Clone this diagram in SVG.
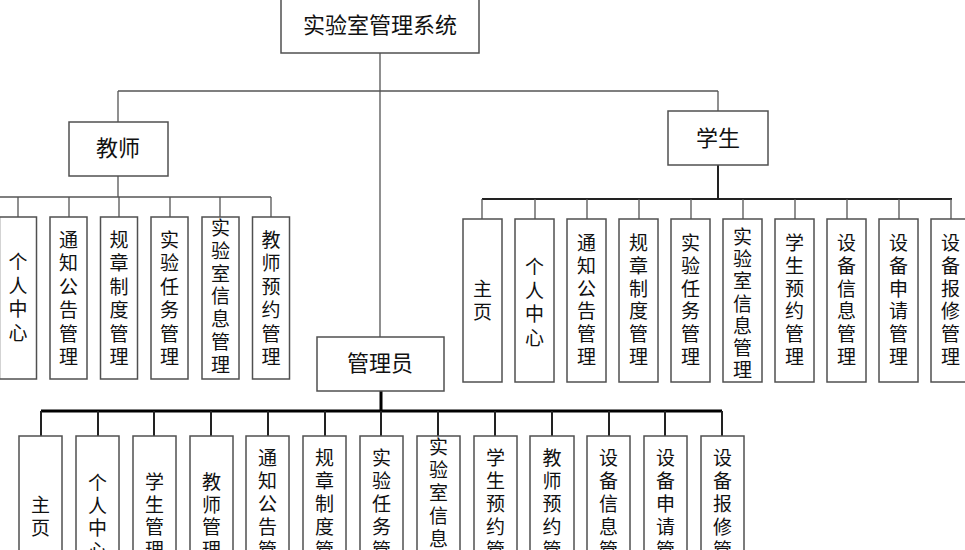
<svg xmlns="http://www.w3.org/2000/svg" width="965" height="550" viewBox="0 0 965 550">
<style>
.bg{fill:#fff}
.box{fill:#fff;stroke:#505050;stroke-width:1.5}
.ln{fill:none;stroke:#555;stroke-width:1.3}
.ln2{fill:none;stroke:#222;stroke-width:2}
.ln3{fill:none;stroke:#000;stroke-width:3}
text{font-family:"Noto Sans CJK SC","Noto Sans CJK TC",sans-serif;fill:#111}
.t{font-size:22px;text-anchor:middle}
.v{font-size:19px;text-anchor:middle}
</style>
<rect class="bg" width="965" height="550"/>
<g id="connectors">
  <path class="ln" d="M380,53 V337 M118,91 H718 M118,91 V122 M718,91 V111"/>
  <path class="ln" d="M118,176 V197 M-5,197 H271 M18,197 V217 M69,197 V217 M119,197 V217 M170,197 V217 M220,197 V217 M271,197 V217"/>
  <path class="ln2" d="M718,165 V199 M482,199 H952"/>
  <path class="ln" d="M482,199 V219 M535,199 V219 M587,199 V219 M639,199 V219 M691,199 V219 M743,199 V219 M795,199 V219 M847,199 V219 M899,199 V219 M951,199 V219"/>
  <path class="ln3" d="M381,391 V411 M41,411 H722"/>
  <path class="ln2" d="M41,411 V436 M98,411 V436 M154,411 V436 M211,411 V436 M268,411 V436 M325,411 V436 M381,411 V436 M438,411 V436 M495,411 V436 M552,411 V436 M609,411 V436 M665,411 V436 M722,411 V436"/>
</g>
<g id="root"><rect class="box" x="281" y="-1" width="198" height="54"/><text class="t" x="380" y="33">实验室管理系统</text></g>
<g id="teacher"><rect class="box" x="69" y="122" width="99" height="54"/><text class="t" x="118" y="156">教师</text></g>
<g id="student"><rect class="box" x="668" y="111" width="100" height="54"/><text class="t" x="718" y="146">学生</text></g>
<g id="admin"><rect class="box" x="317" y="337" width="127" height="54"/><text class="t" x="380" y="371">管理员</text></g>

<g id="t1"><rect class="box" x="-0.5" y="217" width="37" height="162"/><text class="v" x="18" y="269"><tspan x="18">个</tspan><tspan x="18" dy="23.5">人</tspan><tspan x="18" dy="23.5">中</tspan><tspan x="18" dy="23.5">心</tspan></text></g>
<g id="t2"><rect class="box" x="50" y="217" width="37" height="162"/><text class="v" x="68.5" y="247"><tspan x="68.5">通</tspan><tspan x="68.5" dy="23.4">知</tspan><tspan x="68.5" dy="23.4">公</tspan><tspan x="68.5" dy="23.4">告</tspan><tspan x="68.5" dy="23.4">管</tspan><tspan x="68.5" dy="23.4">理</tspan></text></g>
<g id="t3"><rect class="box" x="100.5" y="217" width="37" height="162"/><text class="v" x="119" y="247"><tspan x="119">规</tspan><tspan x="119" dy="23.4">章</tspan><tspan x="119" dy="23.4">制</tspan><tspan x="119" dy="23.4">度</tspan><tspan x="119" dy="23.4">管</tspan><tspan x="119" dy="23.4">理</tspan></text></g>
<g id="t4"><rect class="box" x="151" y="217" width="37" height="162"/><text class="v" x="169.5" y="247"><tspan x="169.5">实</tspan><tspan x="169.5" dy="23.4">验</tspan><tspan x="169.5" dy="23.4">任</tspan><tspan x="169.5" dy="23.4">务</tspan><tspan x="169.5" dy="23.4">管</tspan><tspan x="169.5" dy="23.4">理</tspan></text></g>
<g id="t5"><rect class="box" x="202" y="217" width="37" height="162"/><text class="v" x="220.5" y="235"><tspan x="220.5">实</tspan><tspan x="220.5" dy="22.8">验</tspan><tspan x="220.5" dy="22.8">室</tspan><tspan x="220.5" dy="22.8">信</tspan><tspan x="220.5" dy="22.8">息</tspan><tspan x="220.5" dy="22.8">管</tspan><tspan x="220.5" dy="22.8">理</tspan></text></g>
<g id="t6"><rect class="box" x="252.5" y="217" width="37" height="162"/><text class="v" x="271" y="247"><tspan x="271">教</tspan><tspan x="271" dy="23.4">师</tspan><tspan x="271" dy="23.4">预</tspan><tspan x="271" dy="23.4">约</tspan><tspan x="271" dy="23.4">管</tspan><tspan x="271" dy="23.4">理</tspan></text></g>

<g id="s1"><rect class="box" x="463" y="219" width="39" height="163"/><text class="v" x="482.5" y="296"><tspan x="482.5">主</tspan><tspan x="482.5" dy="22.5">页</tspan></text></g>
<g id="s2"><rect class="box" x="515" y="219" width="39" height="163"/><text class="v" x="534.5" y="274"><tspan x="534.5">个</tspan><tspan x="534.5" dy="23.5">人</tspan><tspan x="534.5" dy="23.5">中</tspan><tspan x="534.5" dy="23.5">心</tspan></text></g>
<g id="s3"><rect class="box" x="567" y="219" width="39" height="163"/><text class="v" x="586.5" y="250"><tspan x="586.5">通</tspan><tspan x="586.5" dy="22.8">知</tspan><tspan x="586.5" dy="22.8">公</tspan><tspan x="586.5" dy="22.8">告</tspan><tspan x="586.5" dy="22.8">管</tspan><tspan x="586.5" dy="22.8">理</tspan></text></g>
<g id="s4"><rect class="box" x="619" y="219" width="39" height="163"/><text class="v" x="638.5" y="250"><tspan x="638.5">规</tspan><tspan x="638.5" dy="22.8">章</tspan><tspan x="638.5" dy="22.8">制</tspan><tspan x="638.5" dy="22.8">度</tspan><tspan x="638.5" dy="22.8">管</tspan><tspan x="638.5" dy="22.8">理</tspan></text></g>
<g id="s5"><rect class="box" x="671" y="219" width="39" height="163"/><text class="v" x="690.5" y="250"><tspan x="690.5">实</tspan><tspan x="690.5" dy="22.8">验</tspan><tspan x="690.5" dy="22.8">任</tspan><tspan x="690.5" dy="22.8">务</tspan><tspan x="690.5" dy="22.8">管</tspan><tspan x="690.5" dy="22.8">理</tspan></text></g>
<g id="s6"><rect class="box" x="723" y="219" width="39" height="163"/><text class="v" x="742.5" y="244"><tspan x="742.5">实</tspan><tspan x="742.5" dy="22.2">验</tspan><tspan x="742.5" dy="22.2">室</tspan><tspan x="742.5" dy="22.2">信</tspan><tspan x="742.5" dy="22.2">息</tspan><tspan x="742.5" dy="22.2">管</tspan><tspan x="742.5" dy="22.2">理</tspan></text></g>
<g id="s7"><rect class="box" x="775" y="219" width="39" height="163"/><text class="v" x="794.5" y="250"><tspan x="794.5">学</tspan><tspan x="794.5" dy="22.8">生</tspan><tspan x="794.5" dy="22.8">预</tspan><tspan x="794.5" dy="22.8">约</tspan><tspan x="794.5" dy="22.8">管</tspan><tspan x="794.5" dy="22.8">理</tspan></text></g>
<g id="s8"><rect class="box" x="827" y="219" width="39" height="163"/><text class="v" x="846.5" y="250"><tspan x="846.5">设</tspan><tspan x="846.5" dy="22.8">备</tspan><tspan x="846.5" dy="22.8">信</tspan><tspan x="846.5" dy="22.8">息</tspan><tspan x="846.5" dy="22.8">管</tspan><tspan x="846.5" dy="22.8">理</tspan></text></g>
<g id="s9"><rect class="box" x="879" y="219" width="39" height="163"/><text class="v" x="898.5" y="250"><tspan x="898.5">设</tspan><tspan x="898.5" dy="22.8">备</tspan><tspan x="898.5" dy="22.8">申</tspan><tspan x="898.5" dy="22.8">请</tspan><tspan x="898.5" dy="22.8">管</tspan><tspan x="898.5" dy="22.8">理</tspan></text></g>
<g id="s10"><rect class="box" x="931" y="219" width="39" height="163"/><text class="v" x="950.5" y="250"><tspan x="950.5">设</tspan><tspan x="950.5" dy="22.8">备</tspan><tspan x="950.5" dy="22.8">报</tspan><tspan x="950.5" dy="22.8">修</tspan><tspan x="950.5" dy="22.8">管</tspan><tspan x="950.5" dy="22.8">理</tspan></text></g>

<g id="a1"><rect class="box" x="19" y="436" width="43" height="160"/><text class="v" x="40.5" y="512"><tspan x="40.5">主</tspan><tspan x="40.5" dy="22.5">页</tspan></text></g>
<g id="a2"><rect class="box" x="76" y="436" width="43" height="160"/><text class="v" x="97.5" y="490"><tspan x="97.5">个</tspan><tspan x="97.5" dy="22.5">人</tspan><tspan x="97.5" dy="22.5">中</tspan><tspan x="97.5" dy="22.5">心</tspan></text></g>
<g id="a3"><rect class="box" x="133" y="436" width="43" height="160"/><text class="v" x="154.5" y="489"><tspan x="154.5">学</tspan><tspan x="154.5" dy="22.5">生</tspan><tspan x="154.5" dy="22.5">管</tspan><tspan x="154.5" dy="22.5">理</tspan></text></g>
<g id="a4"><rect class="box" x="190" y="436" width="43" height="160"/><text class="v" x="211.5" y="489"><tspan x="211.5">教</tspan><tspan x="211.5" dy="22.5">师</tspan><tspan x="211.5" dy="22.5">管</tspan><tspan x="211.5" dy="22.5">理</tspan></text></g>
<g id="a5"><rect class="box" x="246" y="436" width="43" height="160"/><text class="v" x="267.5" y="465"><tspan x="267.5">通</tspan><tspan x="267.5" dy="23">知</tspan><tspan x="267.5" dy="23">公</tspan><tspan x="267.5" dy="23">告</tspan><tspan x="267.5" dy="23">管</tspan><tspan x="267.5" dy="23">理</tspan></text></g>
<g id="a6"><rect class="box" x="303" y="436" width="43" height="160"/><text class="v" x="324.5" y="465"><tspan x="324.5">规</tspan><tspan x="324.5" dy="23">章</tspan><tspan x="324.5" dy="23">制</tspan><tspan x="324.5" dy="23">度</tspan><tspan x="324.5" dy="23">管</tspan><tspan x="324.5" dy="23">理</tspan></text></g>
<g id="a7"><rect class="box" x="360" y="436" width="43" height="160"/><text class="v" x="381.5" y="465"><tspan x="381.5">实</tspan><tspan x="381.5" dy="23">验</tspan><tspan x="381.5" dy="23">任</tspan><tspan x="381.5" dy="23">务</tspan><tspan x="381.5" dy="23">管</tspan><tspan x="381.5" dy="23">理</tspan></text></g>
<g id="a8"><rect class="box" x="417" y="436" width="43" height="160"/><text class="v" x="438.5" y="454"><tspan x="438.5">实</tspan><tspan x="438.5" dy="23">验</tspan><tspan x="438.5" dy="23">室</tspan><tspan x="438.5" dy="23">信</tspan><tspan x="438.5" dy="23">息</tspan><tspan x="438.5" dy="23">管</tspan><tspan x="438.5" dy="23">理</tspan></text></g>
<g id="a9"><rect class="box" x="474" y="436" width="43" height="160"/><text class="v" x="495.5" y="465"><tspan x="495.5">学</tspan><tspan x="495.5" dy="23">生</tspan><tspan x="495.5" dy="23">预</tspan><tspan x="495.5" dy="23">约</tspan><tspan x="495.5" dy="23">管</tspan><tspan x="495.5" dy="23">理</tspan></text></g>
<g id="a10"><rect class="box" x="530" y="436" width="44" height="160"/><text class="v" x="552" y="465"><tspan x="552">教</tspan><tspan x="552" dy="23">师</tspan><tspan x="552" dy="23">预</tspan><tspan x="552" dy="23">约</tspan><tspan x="552" dy="23">管</tspan><tspan x="552" dy="23">理</tspan></text></g>
<g id="a11"><rect class="box" x="587" y="436" width="43" height="160"/><text class="v" x="608.5" y="465"><tspan x="608.5">设</tspan><tspan x="608.5" dy="23">备</tspan><tspan x="608.5" dy="23">信</tspan><tspan x="608.5" dy="23">息</tspan><tspan x="608.5" dy="23">管</tspan><tspan x="608.5" dy="23">理</tspan></text></g>
<g id="a12"><rect class="box" x="644" y="436" width="43" height="160"/><text class="v" x="665.5" y="465"><tspan x="665.5">设</tspan><tspan x="665.5" dy="23">备</tspan><tspan x="665.5" dy="23">申</tspan><tspan x="665.5" dy="23">请</tspan><tspan x="665.5" dy="23">管</tspan><tspan x="665.5" dy="23">理</tspan></text></g>
<g id="a13"><rect class="box" x="701" y="436" width="43" height="160"/><text class="v" x="722.5" y="465"><tspan x="722.5">设</tspan><tspan x="722.5" dy="23">备</tspan><tspan x="722.5" dy="23">报</tspan><tspan x="722.5" dy="23">修</tspan><tspan x="722.5" dy="23">管</tspan><tspan x="722.5" dy="23">理</tspan></text></g>
</svg>
